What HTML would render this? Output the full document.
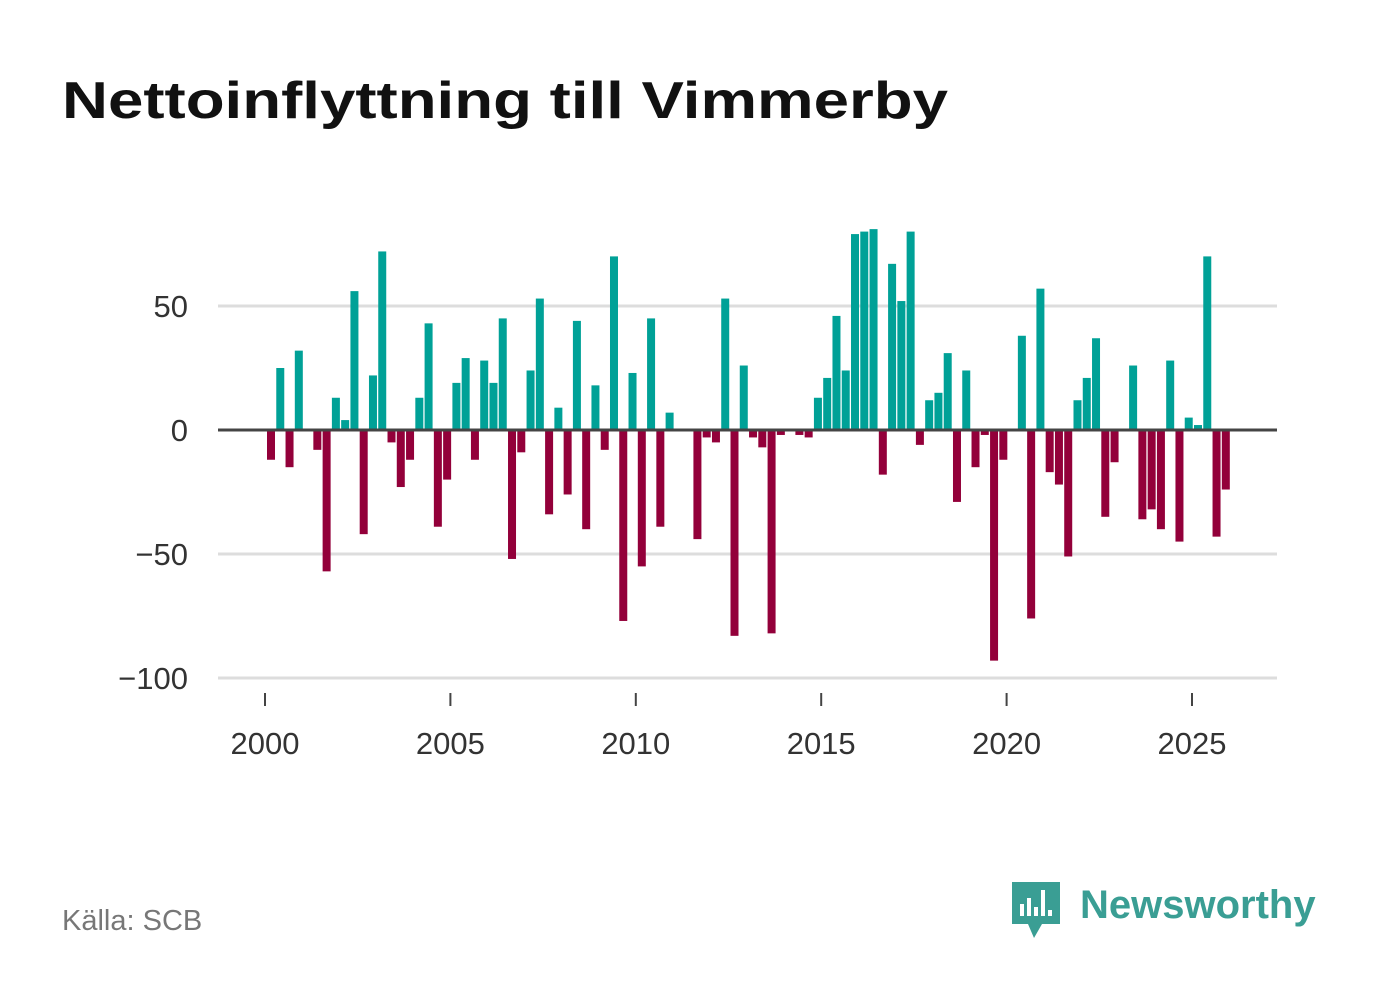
<!DOCTYPE html>
<html><head><meta charset="utf-8"><style>
body{margin:0;background:#fff;font-family:"Liberation Sans",sans-serif;}
#wrap{position:relative;width:1382px;height:999px;overflow:hidden;}
</style></head><body>
<div id="wrap">
<svg id="chart" width="1382" height="999">
<text x="62" y="118" font-size="52" font-weight="bold" fill="#111" textLength="886" lengthAdjust="spacingAndGlyphs">Nettoinflyttning till Vimmerby</text>
<g id="grid"></g>
<g id="bars"></g>
<g id="xaxis"></g>
<text x="62" y="930" font-size="29" fill="#777">Källa: SCB</text>
<g>
<path d="M1012 882 h48 v42 h-18 l-8 14 l-6 -14 h-16 z" fill="#3a9e94"/>
<rect x="1020" y="904" width="4" height="12" fill="#fff"/><rect x="1027" y="898" width="4" height="18" fill="#fff"/><rect x="1034" y="907" width="4" height="9" fill="#fff"/><rect x="1041" y="890" width="4" height="26" fill="#fff"/><rect x="1048" y="910" width="4" height="6" fill="#fff"/>
<text x="1080" y="918" font-size="40" font-weight="bold" fill="#3a9e94">Newsworthy</text>
</g>
</svg>
</div>
<script>
const values = [-12,25,-15,32,0,-8,-57,13,4,56,-42,22,72,-5,-23,-12,13,43,-39,-20,19,29,-12,28,19,45,-52,-9,24,53,-34,9,-26,44,-40,18,-8,70,-77,23,-55,45,-39,7,0,0,-44,-3,-5,53,-83,26,-3,-7,-82,-2,0,-2,-3,13,21,46,24,79,80,81,-18,67,52,80,-6,12,15,31,-29,24,-15,-2,-93,-12,0,38,-76,57,-17,-22,-51,12,21,37,-35,-13,0,26,-36,-32,-40,28,-45,5,2,70,-43,-24];
const startYear = 2000;
const yTicks = [50,0,-50,-100];
const yTickLabels = ["50","0","\u221250","\u2212100"];
const xTicks = [2000,2005,2010,2015,2020,2025];
const NS="http://www.w3.org/2000/svg";
function y(v){return 430 - v*2.48;}
function x(yr){return 265 + (yr-2000)*37.08;}
function mk(tag,attrs,parent){const e=document.createElementNS(NS,tag);for(const k in attrs)e.setAttribute(k,attrs[k]);parent.appendChild(e);return e;}
const grid=document.getElementById('grid'),bars=document.getElementById('bars'),xa=document.getElementById('xaxis');
yTicks.forEach((t,i)=>{
  if(t!==0){const l=mk('line',{x1:218,x2:1277,y1:y(t),y2:y(t),stroke:'#ddd','stroke-width':3},grid);
  
  }
  const tx=mk('text',{x:188,y:y(t)+11,'font-size':31,fill:'#333','text-anchor':'end'},grid);
  tx.textContent=yTickLabels[i];
  
  
});
values.forEach((v,i)=>{
  if(v===0)return;
  const cx=x(startYear+i/4)+6;
  const r=mk('rect',{x:cx-4,width:8,y:v>0?y(v):y(0),height:Math.abs(y(v)-y(0)),fill:v>0?'#00a197':'#93003a'},bars);
  
  
});
const zl=mk('line',{x1:218,x2:1277,y1:y(0),y2:y(0),stroke:'#444','stroke-width':3},grid.parentNode);


xTicks.forEach(t=>{
  const l=mk('line',{x1:x(t),x2:x(t),y1:693,y2:706,stroke:'#444','stroke-width':2},xa);
  
  
  const tx=mk('text',{x:x(t),y:754,'font-size':31,fill:'#333','text-anchor':'middle'},xa);
  tx.textContent=t;
  
  
});
</script>
</body></html>
